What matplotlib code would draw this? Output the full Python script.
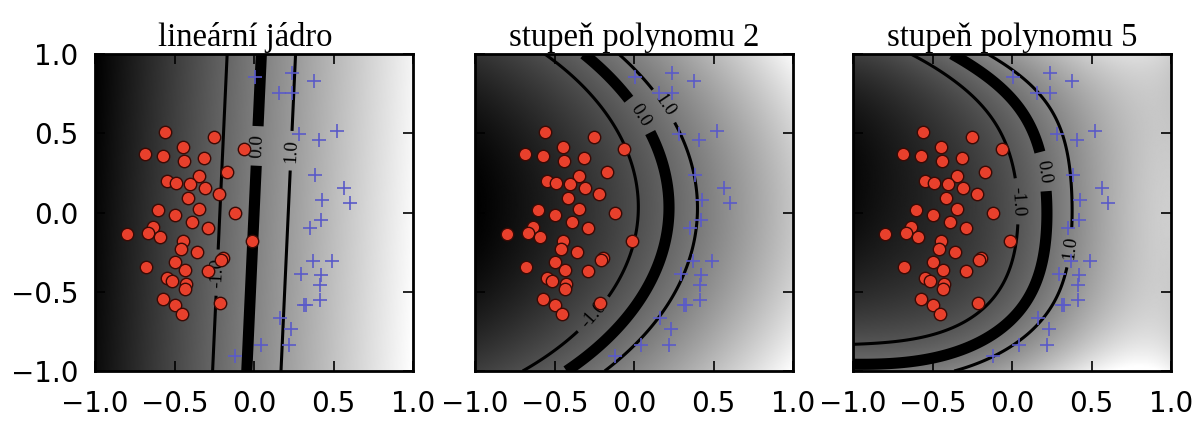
import numpy as np
import matplotlib
matplotlib.use("Agg")
import matplotlib.pyplot as plt

# ---------------- data ----------------
titles = ["lineární jádro", "stupeň polynomu 2", "stupeň polynomu 5"]
degrees = [1, 2, 5]

red_x = [-0.557, -0.253, -0.445, -0.685, -0.574, -0.439, -0.315, -0.060, -0.171, -0.349,
         -0.550, -0.493, -0.403, -0.306, -0.221, -0.413, -0.349, -0.606, -0.499, -0.392,
         -0.122, -0.289, -0.636, -0.668, -0.797, -0.593, -0.445, -0.456, -0.015, -0.360,
         -0.197, -0.208, -0.679, -0.497, -0.435, -0.289, -0.550, -0.518, -0.428, -0.433,
         -0.574, -0.497, -0.450, -0.214]
red_y = [0.507, 0.476, 0.412, 0.366, 0.355, 0.328, 0.345, 0.402, 0.256, 0.228,
         0.197, 0.186, 0.182, 0.154, 0.118, 0.091, 0.023, 0.013, -0.015, -0.057,
         -0.006, -0.095, -0.089, -0.131, -0.137, -0.152, -0.178, -0.230, -0.180, -0.252,
         -0.285, -0.300, -0.342, -0.311, -0.364, -0.370, -0.416, -0.433, -0.452, -0.480,
         -0.543, -0.586, -0.638, -0.569]

blue_x = [0.004, 0.242, 0.379, 0.156, 0.236, 0.283, 0.520, 0.407, 0.381, 0.567,
          0.428, 0.606, 0.422, 0.353, 0.370, 0.493, 0.296, 0.422, 0.413, 0.328,
          0.317, 0.418, 0.161, 0.231, 0.047, 0.221, -0.122]
blue_y = [0.856, 0.877, 0.827, 0.751, 0.757, 0.493, 0.514, 0.455, 0.239, 0.154,
          0.076, 0.059, -0.047, -0.099, -0.304, -0.307, -0.385, -0.395, -0.459, -0.581,
          -0.586, -0.554, -0.666, -0.734, -0.839, -0.839, -0.907]

levels = [-1.0, 0.0, 1.0]

# contour traces (level -1, 0, +1)
lin_m1_x = [-0.171, -0.216, -0.261]; lin_m1_y = [0.97, 0.0, -0.98]
lin_0_x = [0.045, 0.003, -0.039];    lin_0_y = [0.97, 0.0, -0.98]
lin_p1_x = [0.261, 0.214, 0.167];    lin_p1_y = [0.97, 0.0, -0.98]

q2_m1_x = [-0.527, -0.335, -0.143, -0.036, 0.006, 0.002, -0.015, -0.068, -0.185, -0.399, -0.612]
q2_m1_y = [0.968, 0.831, 0.598, 0.366, 0.133, 0.0, -0.163, -0.353, -0.543, -0.776, -0.977]
q2_0_x = [-0.292, -0.122, 0.006, 0.113, 0.188, 0.215, 0.220, 0.209, 0.166, 0.070, -0.100, -0.399]
q2_0_y = [0.968, 0.820, 0.672, 0.514, 0.323, 0.133, 0.0, -0.163, -0.374, -0.586, -0.776, -0.966]
q2_p1_x = [-0.079, 0.092, 0.241, 0.337, 0.375, 0.380, 0.369, 0.326, 0.241, 0.113, -0.036, -0.207]
q2_p1_y = [0.979, 0.810, 0.598, 0.387, 0.175, 0.0, -0.163, -0.353, -0.543, -0.712, -0.860, -0.977]

q5_m1_x = [-0.580, -0.399, -0.185, -0.079, -0.026, 0.006, 0.012, 0.006, -0.026, -0.100, -0.228, -0.399, -0.612, -0.825, -0.974]
q5_m1_y = [0.968, 0.852, 0.704, 0.577, 0.408, 0.218, 0.03, -0.163, -0.332, -0.501, -0.649, -0.755, -0.800, -0.822, -0.830]
q5_0_x = [-0.324, -0.143, 0.006, 0.124, 0.188, 0.230, 0.230, 0.215, 0.177, 0.102, -0.015, -0.185, -0.399, -0.655, -0.974]
q5_0_y = [0.968, 0.831, 0.683, 0.514, 0.387, 0.133, 0.0, -0.184, -0.374, -0.543, -0.691, -0.818, -0.890, -0.925, -0.940]
q5_p1_x = [-0.100, 0.113, 0.262, 0.348, 0.373, 0.380, 0.362, 0.326, 0.241, 0.113, -0.079, -0.360]
q5_p1_y = [0.968, 0.810, 0.598, 0.387, 0.175, 0.0, -0.230, -0.459, -0.607, -0.755, -0.882, -0.985]

# rough background values for the degree-5 panel (from grey levels)
q5_anchor_x = [-0.6, -0.8, -0.8, -1.0, -1.0, -0.45, -0.5, 0.7, 1.0, 1.0, 1.0, 0.6, 0.6, 0.0, 0.0,
               -1.0, -0.8, -0.6, -0.45]
q5_anchor_y = [0.0, 0.3, -0.3, 0.0, 1.0, 0.2, -0.45, 0.0, 0.0, 1.0, -1.0, 0.6, -0.6, 1.0, -1.0,
               -1.0, -1.0, -1.0, -1.0]
q5_anchor_v = [-3.5, -3.5, -3.5, -4.0, -2.0, -2.5, -2.5, 3.0, 4.0, 4.0, 5.5, 3.0, 3.5, 1.5, 2.5,
               0.35, 0.4, 0.55, 0.75]
q5_anchor_w = [0.4, 0.4, 0.4, 0.4, 0.4, 0.4, 0.4, 0.4, 0.4, 0.4, 0.4, 0.4, 0.4, 0.4, 0.4,
               2.0, 2.0, 2.0, 2.0]

label_pos = [
    [(-0.22, -0.38), (0.02, 0.42), (0.23, 0.39)],
    [(-0.28, -0.62), (0.02, 0.60), (0.20, 0.68)],
    [(0.02, 0.07), (0.21, 0.26), (0.34, -0.22)],
]
shade_limits = [None, None, (-4.5, 6.0)]

panel_traces = [
    [(lin_m1_x, lin_m1_y), (lin_0_x, lin_0_y), (lin_p1_x, lin_p1_y)],
    [(q2_m1_x, q2_m1_y), (q2_0_x, q2_0_y), (q2_p1_x, q2_p1_y)],
    [(q5_m1_x, q5_m1_y), (q5_0_x, q5_0_y), (q5_p1_x, q5_p1_y)],
]
panel_anchors = [None, None, (q5_anchor_x, q5_anchor_y, q5_anchor_v, q5_anchor_w)]


def design(x, y, d):
    x = np.asarray(x, float); y = np.asarray(y, float)
    cols = [x ** i * y ** j for i in range(d + 1) for j in range(d + 1 - i)]
    return np.stack(cols, axis=-1)


def fit_surface(traces, anchors, d):
    xs, ys, vs, ws = [], [], [], []
    for lev, (tx, ty) in zip(levels, traces):
        xs += list(tx); ys += list(ty); vs += [lev] * len(tx); ws += [1.0] * len(tx)
    if anchors is not None:
        ax_, ay_, av_, aw_ = anchors
        xs += list(ax_); ys += list(ay_); vs += list(av_); ws += list(aw_)
    A = design(xs, ys, d) * np.array(ws)[:, None]
    b = np.array(vs) * np.array(ws)
    n = A.shape[1]
    lam = 1e-4
    A2 = np.vstack([A, np.sqrt(lam) * np.eye(n)])
    b2 = np.concatenate([b, np.zeros(n)])
    coef = np.linalg.lstsq(A2, b2, rcond=None)[0]
    return coef


plt.rcParams["font.family"] = ["DejaVu Sans"]

fig = plt.figure(figsize=(11.97, 4.21), dpi=100)
W, H = 1197.0, 421.0
lefts = [95, 475, 853]
ax_w, ax_top, ax_bot = 318, 54, 371

g = np.linspace(-1, 1, 400)
GX, GY = np.meshgrid(g, g)

for k in range(3):
    ax = fig.add_axes([lefts[k] / W, (H - ax_bot) / H, ax_w / W, (ax_bot - ax_top) / H])
    coef = fit_surface(panel_traces[k], panel_anchors[k], degrees[k])
    Z = design(GX, GY, degrees[k]) @ coef
    lim = shade_limits[k]
    if lim is None:
        lim = (Z.min(), Z.max())
    ax.imshow(Z, cmap="gray", origin="lower", extent=[-1, 1, -1, 1],
              vmin=lim[0], vmax=lim[1], aspect="auto", interpolation="bilinear", zorder=0)
    cs = ax.contour(GX, GY, Z, levels=levels, colors="k", linestyles="solid",
                    linewidths=[2.2, 8.0, 2.2], zorder=1)
    texts = ax.clabel(cs, fmt="%.1f", fontsize=13.5, inline=True, manual=label_pos[k])
    for t in texts:
        t.set_family("Liberation Serif")
    ax.scatter(red_x, red_y, s=80, c="#e8402c", edgecolors="#3a0a05", linewidths=1.0, zorder=3)
    ax.scatter(blue_x, blue_y, s=95, c="#5a5ac8", marker="+", linewidths=1.2, zorder=3)
    ax.set_xlim(-1, 1); ax.set_ylim(-1, 1)
    ax.set_xticks([-1.0, -0.5, 0.0, 0.5, 1.0])
    ax.set_yticks([-1.0, -0.5, 0.0, 0.5, 1.0])
    ax.tick_params(direction="in", top=True, right=True, length=7, width=1.2, labelsize=20)
    ax.tick_params(axis="x", pad=14)
    ax.tick_params(axis="y", pad=12)
    if k > 0:
        ax.tick_params(axis="y", labelleft=False)
    for sp in ax.spines.values():
        sp.set_linewidth(2.0)
    ax.set_title(titles[k], fontfamily="Liberation Serif", fontsize=23.5, pad=6,
                 x=0.472 if k == 0 else 0.5)

fig.savefig("out.png", dpi=100)
